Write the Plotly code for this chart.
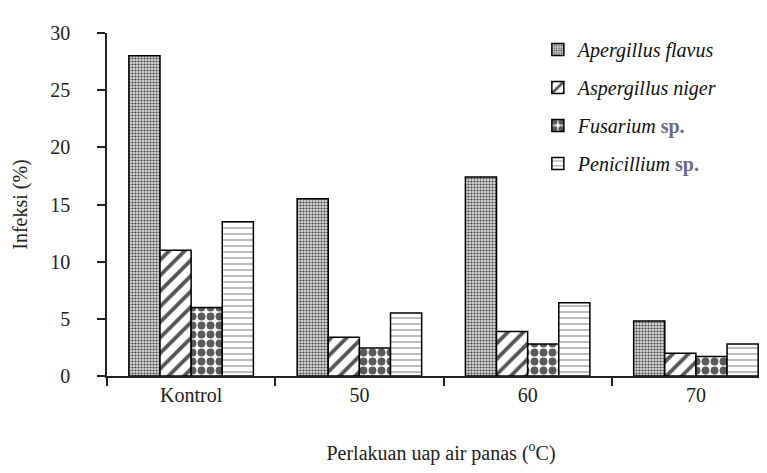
import plotly.graph_objects as go

categories = ["Kontrol", "50", "60", "70"]
a_flavus = [28.0, 15.5, 17.4, 4.8]
a_niger = [11.0, 3.4, 3.9, 2.0]
fusarium = [6.0, 2.45, 2.8, 1.7]
penicillium = [13.5, 5.5, 6.4, 2.8]
y_ticks = [0, 5, 10, 15, 20, 25, 30]

sp = " <b><span style='color:#6e6a8a'>sp.</span></b>"
names = ["<i>Apergillus flavus</i>", "<i>Aspergillus niger</i>",
         "<i>Fusarium</i>" + sp, "<i>Penicillium</i>" + sp]
series = [a_flavus, a_niger, fusarium, penicillium]
patterns = [
    dict(shape=".", fgcolor="#444444", bgcolor="#d8d8d8", size=3, solidity=0.4),
    dict(shape="/", fgcolor="#555555", bgcolor="white", size=11, solidity=0.35),
    dict(shape=".", fgcolor="#5a5a5a", bgcolor="white", size=9, solidity=0.6),
    dict(shape="-", fgcolor="#999999", bgcolor="white", size=6, solidity=0.22),
]

FF = "Liberation Serif, serif"
TXT = "#222222"

fig = go.Figure()
for i, (nm, vals, pat) in enumerate(zip(names, series, patterns)):
    fig.add_trace(go.Bar(
        x=categories, y=vals, name=nm, legendgroup=str(i),
        marker=dict(color="white", pattern=pat,
                    line=dict(color="black", width=1.5)),
    ))

fig.update_layout(
    template="none",
    width=767, height=473,
    margin=dict(l=99, r=0, t=25, b=105),
    paper_bgcolor="white", plot_bgcolor="white",
    barmode="group", bargap=0.26, bargroupgap=0,
    font=dict(family=FF, size=20, color=TXT),
    showlegend=True,
    legend=dict(x=0.645, y=1.009, xanchor="left", yanchor="top",
                bgcolor="rgba(0,0,0,0)", font=dict(family=FF, size=20, color="#111111"),
                tracegroupgap=9, traceorder="grouped", itemwidth=30),
    xaxis=dict(
        type="category", range=[-0.5, 3.47],
        showline=True, linecolor="#222222", linewidth=1.5,
        ticks="outside", tickson="boundaries", ticklen=8, tickcolor="#222222",
        tickwidth=1.5, showgrid=False, zeroline=False,
        tickfont=dict(family=FF, size=20, color=TXT),
        title=dict(text="Perlakuan uap air panas (<sup>o</sup>C)", standoff=41,
                   font=dict(family=FF, size=20, color=TXT)),
    ),
    yaxis=dict(
        range=[0, 30], tickvals=y_ticks,
        showline=True, linecolor="#222222", linewidth=1.5,
        ticks="outside", ticklen=8, tickcolor="#222222", tickwidth=1.5,
        ticklabelstandoff=23,
        showgrid=False, zeroline=False,
        tickfont=dict(family=FF, size=20, color=TXT),
        title=dict(text="Infeksi (%)", standoff=17,
                   font=dict(family=FF, size=20, color=TXT)),
    ),
)

fig.write_html("out.html")
